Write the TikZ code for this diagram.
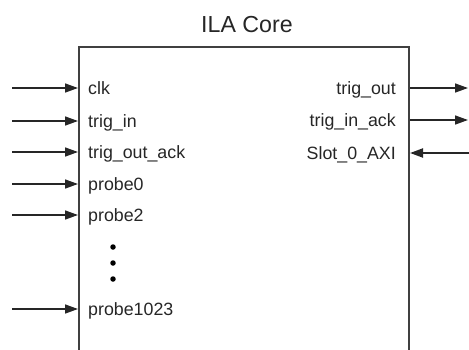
\documentclass[tikz,border=0pt]{standalone}
\usepackage{fontspec}
\setmainfont{Liberation Sans}
\usetikzlibrary{arrows.meta}
\begin{document}
\begin{tikzpicture}[x=1pt,y=-1pt,
  port/.style={font=\fontsize{17.8}{21}\selectfont, inner sep=0pt, text=black!85,
               text height=12.7pt, text depth=0pt},
  sig/.style={line width=1.5pt, draw=black!85,
              -{Triangle[length=13pt,width=9pt]}},
  bus/.style={sig, line width=2pt},
  dotmark/.style={circle, fill=black, inner sep=0pt, minimum size=5.5pt}]
\clip (0,0) rectangle (469,349);
% core box (open at the bottom)
\node[draw=black!75, line width=2pt, anchor=north west, inner sep=0pt,
      minimum width=330pt, minimum height=340pt] (core) at (78,46) {};
\node[font=\fontsize{23.2}{27}\selectfont, text=black!85] (title) at (247,25) {ILA Core};
% left ports
\node[port, anchor=west] (clk) at (88,88) {clk};
\node[port, anchor=west] (trigin) at (88,121) {trig\_in};
\node[port, anchor=west] (trigoutack) at (88,152) {trig\_out\_ack};
\node[port, anchor=west] (probe0) at (88,184) {probe0};
\node[port, anchor=west] (probe2) at (88,215) {probe2};
\node[port, anchor=west] (probe1023) at (88,309) {probe1023};
\node[dotmark] (d1) at (113,247) {};
\node[dotmark] (d2) at (113,263) {};
\node[dotmark] (d3) at (113,279) {};
% right ports
\node[port, anchor=east] (trigout) at (396,88) {trig\_out};
\node[port, anchor=east] (triginack) at (396,120) {trig\_in\_ack};
\node[port, anchor=east] (slot) at (396,153) {Slot\_0\_AXI};
% free ends
\coordinate (a1) at (12,88);
\coordinate (a2) at (12,121);
\coordinate (a3) at (12,152);
\coordinate (a4) at (12,184);
\coordinate (a5) at (12,215);
\coordinate (a6) at (12,309);
\coordinate (b1) at (468,88);
\coordinate (b2) at (468,120);
\coordinate (b3) at (469,153);
% connectors
\draw[sig] (a1) -- (a1 -| core.west);
\draw[sig] (a2) -- (a2 -| core.west);
\draw[sig] (a3) -- (a3 -| core.west);
\draw[sig] (a4) -- (a4 -| core.west);
\draw[sig] (a5) -- (a5 -| core.west);
\draw[sig] (a6) -- (a6 -| core.west);
\draw[sig] (b1 -| core.east) -- (b1);
\draw[sig] (b2 -| core.east) -- (b2);
\draw[bus] (b3) -- (b3 -| core.east);
\end{tikzpicture}
\end{document}
